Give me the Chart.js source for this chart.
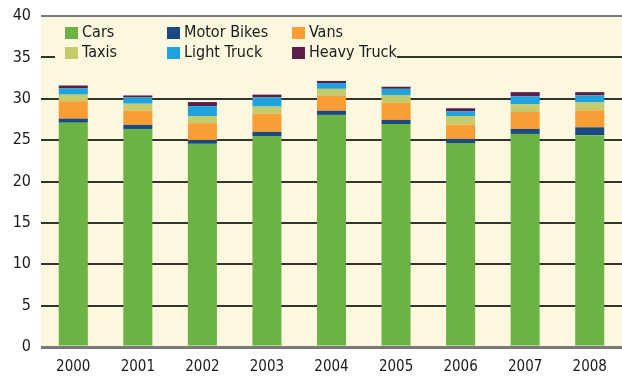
<!DOCTYPE html>
<html>
<head>
<meta charset="utf-8">
<script src="https://cdn.jsdelivr.net/npm/chart.js@4/dist/chart.umd.min.js"></script>
<style>
  html, body { margin: 0; padding: 0; background: #fff; }
  #wrap { width: 622px; height: 376px; }
</style>
</head>
<body>
<div id="wrap"><canvas id="myChart"></canvas></div>
<script>
var years = ['2000', '2001', '2002', '2003', '2004', '2005', '2006', '2007', '2008'];
var cars       = [27.1, 26.35, 24.55, 25.5, 28.05, 26.95, 24.65, 25.75, 25.6];
var motorBikes = [0.5, 0.5, 0.45, 0.5, 0.5, 0.5, 0.5, 0.6, 0.95];
var vans       = [2.1, 1.7, 2.05, 2.2, 1.8, 2.05, 1.7, 2.05, 2.05];
var taxis      = [0.8, 0.85, 0.85, 0.85, 0.85, 0.95, 1.05, 0.95, 0.95];
var lightTruck = [0.75, 0.75, 1.2, 1.1, 0.7, 0.75, 0.6, 0.95, 0.85];
var heavyTruck = [0.35, 0.25, 0.5, 0.35, 0.25, 0.25, 0.35, 0.5, 0.4];
var yTicks = [0, 5, 10, 15, 20, 25, 30, 35, 40];

var font = "'DejaVu Sans Condensed', sans-serif";
var ctx = document.getElementById('myChart').getContext('2d');

// cream panel behind the bars
var panel = {
    id: 'panel',
    beforeDraw: function (chart) {
        var a = chart.chartArea, c = chart.ctx;
        c.save();
        c.fillStyle = '#fcf7df';
        c.fillRect(a.left, a.top, a.right - a.left, a.bottom - a.top);
        c.restore();
    }
};

// 3 x 2 legend sitting inside the plot
var gridLegend = {
    id: 'gridLegend',
    afterDatasetsDraw: function (chart) {
        var c = chart.ctx;
        var cols = [65, 167, 292];
        var rows = [33, 53];
        c.save();
        c.fillStyle = '#fcf7df';
        c.fillRect(55, 21, 342, 42);
        c.font = '16px ' + font;
        c.textBaseline = 'middle';
        chart.data.datasets.forEach(function (ds, i) {
            var x = cols[i % 3], y = rows[Math.floor(i / 3)];
            c.fillStyle = ds.backgroundColor;
            c.fillRect(x, y - 6, 13, 12);
            c.fillStyle = '#1a1a1a';
            c.fillText(ds.label, x + 17, y);
        });
        c.restore();
    }
};

function series(label, color, values) {
    return {
        label: label,
        data: values,
        backgroundColor: color,
        borderWidth: 0,
        barPercentage: 0.45,
        categoryPercentage: 1.0
    };
}

var myChart = new Chart(ctx, {
    type: 'bar',
    data: {
        labels: years,
        datasets: [
            series('Cars', '#6db244', cars),
            series('Motor Bikes', '#1a4a80', motorBikes),
            series('Vans', '#f89e35', vans),
            series('Taxis', '#c5cb6c', taxis),
            series('Light Truck', '#1fa3dc', lightTruck),
            series('Heavy Truck', '#5a1f48', heavyTruck)
        ]
    },
    options: {
        responsive: true,
        maintainAspectRatio: false,
        animation: false,
        layout: { padding: { top: 16, right: 0, left: 0, bottom: 0 } },
        plugins: {
            legend: { display: false },
            tooltip: { enabled: false }
        },
        scales: {
            x: {
                stacked: true,
                grid: { display: false },
                border: { display: false },
                ticks: { color: '#1a1a1a', font: { family: font, size: 15 }, padding: 3 },
                afterFit: function (s) { s.height = 29; }
            },
            y: {
                stacked: true,
                min: 0,
                max: 40,
                afterBuildTicks: function (s) { s.ticks = yTicks.map(function (v) { return { value: v }; }); },
                grid: {
                    drawTicks: false,
                    lineWidth: function (c) { return c.tick.value === 0 ? 3 : 2; },
                    color: function (c) { return (c.tick.value === 0 || c.tick.value === 40) ? '#7a7a78' : '#33332f'; }
                },
                border: { display: false },
                ticks: { color: '#1a1a1a', font: { family: font, size: 16 }, padding: 10 },
                afterFit: function (s) {
                    s.width = 41;
                    s.paddingTop = 0;
                    s.paddingBottom = 0;
                }
            }
        }
    },
    plugins: [panel, gridLegend]
});
</script>
</body>
</html>
